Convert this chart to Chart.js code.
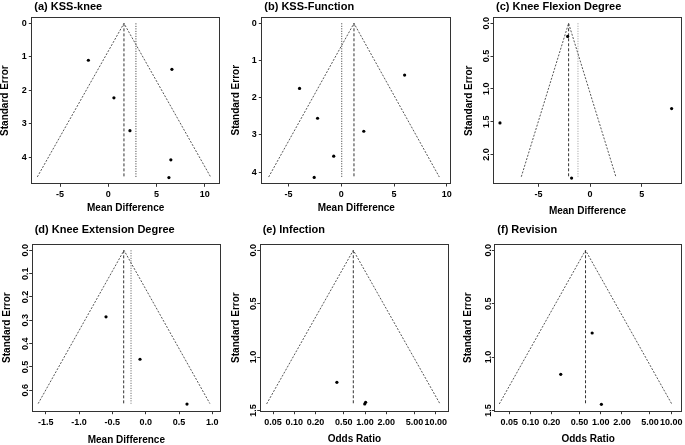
<!DOCTYPE html>
<html><head><meta charset="utf-8">
<script src="https://cdn.jsdelivr.net/npm/chart.js@4/dist/chart.umd.min.js"></script>
<style>
html,body{margin:0;padding:0;background:#fff;}
#wrap{position:relative;width:685px;height:445px;overflow:hidden;background:#fff;}
#wrap canvas{position:absolute;left:0;top:0;}
</style></head><body><div id="wrap"></div>
<script>
// ---------- DATA ----------
const panelTitles = ['(a) KSS-knee', '(b) KSS-Function', '(c) Knee Flexion Degree',
                     '(d) Knee Extension Degree', '(e) Infection', '(f) Revision'];
const xAxisTitles = ['Mean Difference', 'Mean Difference', 'Mean Difference',
                     'Mean Difference', 'Odds Ratio', 'Odds Ratio'];
const yAxisTitle = 'Standard Error';

// (a) KSS-knee
const kssKneeMD = [-2.07, 6.59, 0.58, 2.24, 6.48, 6.28];
const kssKneeSE = [1.10, 1.37, 2.22, 3.20, 4.07, 4.60];
const kssKneeFunnelMD = [-7.36, 1.62, 10.60];
const kssKneeFunnelSE = [4.58, 0, 4.58];
const kssKneeRefLines = [1.62, 2.86];          // [dashed, dotted]
const kssKneeXTicks = [-5, 0, 5, 10];
const kssKneeYTicks = [0, 1, 2, 3, 4];

// (b) KSS-Function
const kssFuncMD = [6.00, -3.96, -2.25, 2.13, -0.72, -2.57];
const kssFuncSE = [1.39, 1.75, 2.55, 2.90, 3.57, 4.14];
const kssFuncFunnelMD = [-6.89, 1.20, 9.29];
const kssFuncFunnelSE = [4.13, 0, 4.13];
const kssFuncRefLines = [1.20, 0.04];
const kssFuncXTicks = [-5, 0, 5, 10];
const kssFuncYTicks = [0, 1, 2, 3, 4];

// (c) Knee Flexion Degree
const flexMD = [-2.18, 7.91, -8.75, -1.80];
const flexSE = [0.20, 1.30, 1.52, 2.36];
const flexFunnelMD = [-6.68, -2.09, 2.50];
const flexFunnelSE = [2.34, 0, 2.34];
const flexRefLines = [-2.09, -1.18];
const flexXTicks = [-5, 0, 5];
const flexYTicks = [0, 0.5, 1.0, 1.5, 2.0];

// (d) Knee Extension Degree
const extMD = [-0.595, -0.085, 0.62];
const extSE = [0.285, 0.467, 0.659];
const extFunnelMD = [-1.613, -0.325, 0.963];
const extFunnelSE = [0.657, 0, 0.657];
const extRefLines = [-0.33, -0.22];
const extXTicks = [-1.5, -1.0, -0.5, 0.0, 0.5, 1.0];
const extYTicks = [0, 0.1, 0.2, 0.3, 0.4, 0.5, 0.6];

// (e) Infection
const infOR = [0.40, 1.02, 0.99];
const infSE = [1.237, 1.425, 1.44];
const infFunnelOR = [0.0406, 0.683, 11.5];
const infFunnelSE = [1.44, 0, 1.44];
const infRefLines = [0.683];
const infXTicks = [0.05, 0.10, 0.20, 0.50, 1.00, 2.00, 5.00, 10.00];
const infYTicks = [0, 0.5, 1.0, 1.5];

// (f) Revision
const revOR = [0.754, 0.27, 1.02];
const revSE = [0.775, 1.162, 1.443];
const revFunnelOR = [0.0361, 0.607, 10.2];
const revFunnelSE = [1.44, 0, 1.44];
const revRefLines = [0.607];
const revXTicks = [0.05, 0.10, 0.20, 0.50, 1.00, 2.00, 5.00, 10.00];
const revYTicks = [0, 0.5, 1.0, 1.5];

// ---------- LAYOUT / STYLE ----------
const FONT = '"Liberation Sans", Arial, Helvetica, sans-serif';
const panels = [
  {x: kssKneeMD, y: kssKneeSE, fx: kssKneeFunnelMD, fy: kssKneeFunnelSE, ref: kssKneeRefLines,
   xt: kssKneeXTicks, yt: kssKneeYTicks, xd: 0, yd: 0, log: false, rotY: false,
   box: [32.3, 18, 219, 183.3], yTitleX: 5, xTitleY: 208.7, titleY: 6.8,
   xr: [-7.88, 11.47], yr: [-0.16, 4.77], dotCol: '#333'},
  {x: kssFuncMD, y: kssFuncSE, fx: kssFuncFunnelMD, fy: kssFuncFunnelSE, ref: kssFuncRefLines,
   xt: kssFuncXTicks, yt: kssFuncYTicks, xd: 0, yd: 0, log: false, rotY: false,
   box: [262.3, 17.5, 450.3, 183], yTitleX: 236, xTitleY: 208.7, titleY: 6.6,
   xr: [-7.49, 10.33], yr: [-0.156, 4.29], dotCol: '#333'},
  {x: flexMD, y: flexSE, fx: flexFunnelMD, fy: flexFunnelSE, ref: flexRefLines,
   xt: flexXTicks, yt: flexYTicks, xd: 0, yd: 1, log: false, rotY: true,
   box: [494, 18.3, 682.7, 183.3], yTitleX: 469.5, xTitleY: 211, titleY: 6.8,
   xr: [-9.33, 8.82], yr: [-0.076, 2.44], dotCol: '#999'},
  {x: extMD, y: extSE, fx: extFunnelMD, fy: extFunnelSE, ref: extRefLines,
   xt: extXTicks, yt: extYTicks, xd: 1, yd: 1, log: false, rotY: true,
   box: [32.7, 244.5, 220, 410.7], yTitleX: 7.5, xTitleY: 440.5, titleY: 230,
   xr: [-1.695, 1.115], yr: [-0.025, 0.6875], dotCol: '#555'},
  {x: infOR, y: infSE, fx: infFunnelOR, fy: infFunnelSE, ref: infRefLines,
   xt: infXTicks, yt: infYTicks, xd: 2, yd: 1, log: true, rotY: true,
   box: [260.7, 244.5, 448, 410.7], yTitleX: 236.3, xTitleY: 439.5, titleY: 229.5,
   xr: [0.0335, 14.9], yr: [-0.054, 1.503], dotCol: '#555'},
  {x: revOR, y: revSE, fx: revFunnelOR, fy: revFunnelSE, ref: revRefLines,
   xt: revXTicks, yt: revYTicks, xd: 2, yd: 1, log: true, rotY: true,
   box: [495.3, 244.5, 682.7, 410.7], yTitleX: 468.7, xTitleY: 439.5, titleY: 229.5,
   xr: [0.0317, 13.8], yr: [-0.054, 1.503], dotCol: '#555'}
];

const boxPlugin = {
  id: 'plotBox',
  afterDraw(chart, args, opts) {
    const {ctx, chartArea: a} = chart;
    ctx.save();
    ctx.strokeStyle = '#333';
    ctx.lineWidth = 1;
    const l = Math.round(a.left) - 0.5, t = Math.round(a.top) - 0.5;
    const r = Math.round(a.right) + 0.5, b = Math.round(a.bottom) + 0.5;
    ctx.strokeRect(l, t, r - l, b - t);
    // panel title, left-aligned with the plot region
    ctx.fillStyle = '#000';
    ctx.font = 'bold 11px ' + FONT;
    ctx.textAlign = 'left';
    ctx.textBaseline = 'middle';
    ctx.fillText(opts.text, a.left + 2, opts.y);
    ctx.restore();
  }
};

const wrap = document.getElementById('wrap');

panels.forEach((p, i) => {
  const cv = document.createElement('canvas');
  cv.width = 685; cv.height = 445;
  wrap.appendChild(cv);
  const [bl, bt, br, bb] = p.box;
  const yLeft = p.yTitleX - 5;
  const xBottom = p.xTitleY + 5;
  const yW = bl - yLeft;
  const xH = xBottom - bb;
  const seMax = p.fy[0];

  const datasets = [
    {data: p.x.map((v, k) => ({x: v, y: p.y[k]})), showLine: false,
     pointRadius: 1.6, backgroundColor: '#000', borderColor: '#000', borderWidth: 0},
    {data: p.fx.map((v, k) => ({x: v, y: p.fy[k]})), showLine: true, pointRadius: 0,
     borderColor: '#555', borderWidth: 1, borderDash: [2, 1.5], fill: false, tension: 0}
  ];
  p.ref.forEach((v, k) => {
    datasets.push({data: [{x: v, y: 0}, {x: v, y: seMax}], showLine: true, pointRadius: 0,
      borderColor: k === 0 ? '#333' : p.dotCol, borderWidth: 1,
      borderDash: k === 0 ? [3, 2] : [1, 1.5], fill: false});
  });

  const tickFont = {family: FONT, size: 9, weight: 'bold', lineHeight: 1};
  new Chart(cv, {
    type: 'scatter',
    data: {datasets},
    options: {
      responsive: false, animation: false, devicePixelRatio: 1, events: [],
      layout: {padding: {left: yLeft, top: bt, right: 685 - br, bottom: 445 - xBottom}},
      plugins: {
        legend: {display: false}, tooltip: {enabled: false}, title: {display: false},
        plotBox: {text: panelTitles[i], y: p.titleY}
      },
      scales: {
        x: {
          type: p.log ? 'logarithmic' : 'linear',
          min: p.xr[0], max: p.xr[1], bounds: 'data',
          afterBuildTicks: s => { s.ticks = p.xt.map(v => ({value: v})); },
          afterFit: s => { s.height = xH; s.paddingLeft = 0; s.paddingRight = 0; },
          ticks: {autoSkip: false, minRotation: 0, maxRotation: 0, padding: 3.5, color: '#000',
            font: tickFont, callback: v => Number(v).toFixed(p.xd)},
          grid: {display: true, drawOnChartArea: false, drawTicks: true, tickLength: 3.5, color: '#333'},
          border: {display: false},
          title: {display: true, text: xAxisTitles[i], color: '#000', padding: 0,
            font: {family: FONT, size: 10, weight: 'bold', lineHeight: 1}}
        },
        y: {
          type: 'linear', reverse: true,
          min: p.yr[0], max: p.yr[1], bounds: 'data',
          afterBuildTicks: s => { s.ticks = p.yt.map(v => ({value: v})); },
          afterFit: s => { s.width = yW; s.paddingTop = 0; s.paddingBottom = 0; },
          ticks: {autoSkip: false, minRotation: p.rotY ? 90 : 0, maxRotation: p.rotY ? 90 : 0,
            crossAlign: p.rotY ? 'center' : 'near', padding: p.rotY ? -2.75 : 2, color: '#000',
            font: tickFont, callback: v => Number(v).toFixed(p.yd)},
          grid: {display: true, drawOnChartArea: false, drawTicks: true, tickLength: 3.5, color: '#333'},
          border: {display: false},
          title: {display: true, text: yAxisTitle, color: '#000', padding: 0,
            font: {family: FONT, size: 10, weight: 'bold', lineHeight: 1}}
        }
      }
    },
    plugins: [boxPlugin]
  });
});
</script></body></html>
